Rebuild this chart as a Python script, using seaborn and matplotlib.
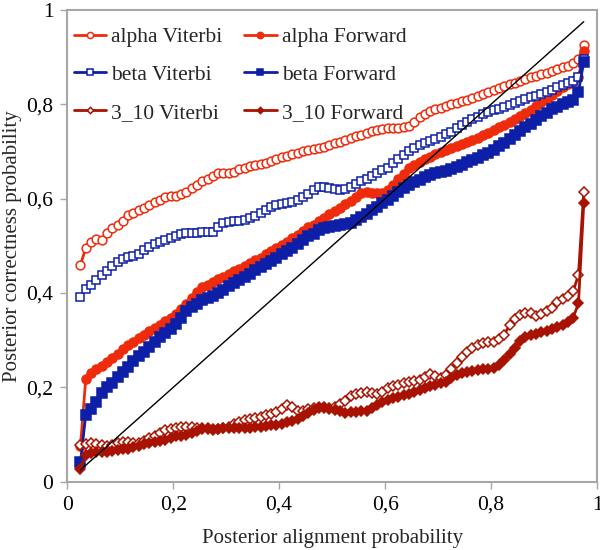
import numpy as np
import pandas as pd
import matplotlib
matplotlib.use("Agg")
import matplotlib.pyplot as plt
import seaborn as sns

# ---------------- data ----------------
x_vals = [round(0.025 + 0.01 * i, 3) for i in range(96)]

alpha_viterbi = [0.46, 0.495, 0.508, 0.514, 0.513, 0.527, 0.537, 0.545, 0.553, 0.565,
                 0.57, 0.575, 0.58, 0.586, 0.592, 0.597, 0.603, 0.605, 0.605, 0.61,
                 0.615, 0.622, 0.63, 0.637, 0.642, 0.648, 0.654, 0.655, 0.655, 0.656,
                 0.662, 0.666, 0.67, 0.672, 0.674, 0.676, 0.68, 0.685, 0.689, 0.69,
                 0.694, 0.697, 0.70, 0.703, 0.705, 0.708, 0.71, 0.713, 0.718, 0.72,
                 0.724, 0.728, 0.732, 0.735, 0.739, 0.743, 0.746, 0.748, 0.749, 0.75,
                 0.75, 0.751, 0.753, 0.762, 0.772, 0.78, 0.786, 0.79, 0.793, 0.797,
                 0.80, 0.803, 0.807, 0.81, 0.813, 0.817, 0.822, 0.827, 0.831, 0.835,
                 0.838, 0.842, 0.845, 0.849, 0.853, 0.857, 0.86, 0.864, 0.867, 0.871,
                 0.874, 0.878, 0.882, 0.888, 0.895, 0.925]

alpha_forward = [0.075, 0.218, 0.231, 0.239, 0.246, 0.253, 0.262, 0.271, 0.281, 0.29,
                 0.297, 0.304, 0.311, 0.319, 0.326, 0.333, 0.341, 0.348, 0.356, 0.366,
                 0.377, 0.39, 0.402, 0.412, 0.418, 0.424, 0.429, 0.435, 0.441, 0.446,
                 0.452, 0.458, 0.463, 0.469, 0.475, 0.483, 0.489, 0.495, 0.502, 0.509,
                 0.516, 0.523, 0.531, 0.539, 0.545, 0.553, 0.56, 0.567, 0.574, 0.581,
                 0.588, 0.595, 0.603, 0.611, 0.614, 0.613, 0.612, 0.613, 0.618, 0.628,
                 0.642, 0.652, 0.664, 0.672, 0.678, 0.684, 0.689, 0.694, 0.698, 0.703,
                 0.708, 0.712, 0.716, 0.72, 0.725, 0.729, 0.734, 0.739, 0.745, 0.751,
                 0.757, 0.762, 0.768, 0.775, 0.781, 0.788, 0.796, 0.804, 0.812, 0.82,
                 0.828, 0.836, 0.842, 0.849, 0.857, 0.912]

beta_viterbi = [0.391, 0.408, 0.417, 0.428, 0.439, 0.447, 0.458, 0.466, 0.472, 0.477,
                0.479, 0.483, 0.491, 0.498, 0.504, 0.508, 0.512, 0.516, 0.521, 0.525,
                0.527, 0.528, 0.528, 0.53, 0.53, 0.53, 0.54, 0.548, 0.55, 0.552,
                0.553, 0.555, 0.559, 0.564, 0.57, 0.577, 0.582, 0.586, 0.589, 0.59,
                0.593, 0.597, 0.604, 0.61, 0.618, 0.625, 0.624, 0.622, 0.62, 0.619,
                0.621, 0.625, 0.632, 0.638, 0.642, 0.647, 0.654, 0.66, 0.666, 0.675,
                0.685, 0.693, 0.70, 0.708, 0.714, 0.718, 0.722, 0.726, 0.73, 0.736,
                0.742, 0.749, 0.756, 0.762, 0.768, 0.774, 0.779, 0.783, 0.788, 0.791,
                0.795, 0.798, 0.802, 0.806, 0.811, 0.815, 0.818, 0.822, 0.826, 0.83,
                0.836, 0.841, 0.845, 0.849, 0.858, 0.895]

beta_forward = [0.041, 0.142, 0.155, 0.17, 0.188, 0.20, 0.21, 0.223, 0.233, 0.244,
                0.255, 0.266, 0.275, 0.286, 0.297, 0.306, 0.315, 0.323, 0.334, 0.347,
                0.361, 0.37, 0.377, 0.385, 0.389, 0.393, 0.40, 0.407, 0.414, 0.421,
                0.428, 0.434, 0.441, 0.448, 0.455, 0.462, 0.468, 0.474, 0.482, 0.489,
                0.495, 0.503, 0.512, 0.52, 0.526, 0.533, 0.537, 0.539, 0.542, 0.544,
                0.546, 0.549, 0.554, 0.561, 0.568, 0.576, 0.583, 0.591, 0.598, 0.606,
                0.615, 0.623, 0.629, 0.635, 0.64, 0.645, 0.65, 0.654, 0.656, 0.658,
                0.663, 0.668, 0.672, 0.677, 0.682, 0.686, 0.692, 0.697, 0.703, 0.711,
                0.719, 0.727, 0.735, 0.743, 0.751, 0.759, 0.767, 0.775, 0.782, 0.789,
                0.795, 0.80, 0.805, 0.81, 0.826, 0.89]

h310_viterbi = [0.078, 0.081, 0.082, 0.08, 0.077, 0.075, 0.079, 0.082, 0.084, 0.085,
                0.083, 0.082, 0.086, 0.092, 0.098, 0.104, 0.109, 0.112, 0.114, 0.116,
                0.117, 0.116, 0.114, 0.115, 0.111, 0.109, 0.111, 0.113, 0.116, 0.122,
                0.127, 0.131, 0.134, 0.136, 0.138, 0.141, 0.144, 0.148, 0.155, 0.162,
                0.158, 0.151, 0.149, 0.154, 0.157, 0.159, 0.158, 0.157, 0.158, 0.165,
                0.172, 0.181, 0.186, 0.189, 0.191, 0.189, 0.185, 0.19, 0.199, 0.203,
                0.206, 0.21, 0.212, 0.214, 0.216, 0.222, 0.229, 0.225, 0.22, 0.226,
                0.24, 0.252, 0.264, 0.276, 0.284, 0.29, 0.294, 0.296, 0.297, 0.302,
                0.312, 0.332, 0.345, 0.353, 0.357, 0.357, 0.352, 0.355, 0.362, 0.368,
                0.38, 0.387, 0.393, 0.404, 0.438, 0.614]

h310_forward = [0.028, 0.057, 0.061, 0.064, 0.064, 0.064, 0.066, 0.068, 0.069, 0.07,
                0.073, 0.076, 0.08, 0.083, 0.085, 0.087, 0.089, 0.093, 0.096, 0.098,
                0.10, 0.104, 0.108, 0.112, 0.113, 0.112, 0.111, 0.113, 0.114, 0.114,
                0.113, 0.114, 0.115, 0.116, 0.117, 0.118, 0.12, 0.121, 0.123, 0.126,
                0.129, 0.134, 0.139, 0.145, 0.152, 0.157, 0.157, 0.155, 0.153, 0.149,
                0.146, 0.147, 0.148, 0.149, 0.151, 0.157, 0.163, 0.169, 0.174, 0.177,
                0.18, 0.184, 0.187, 0.19, 0.194, 0.198, 0.202, 0.206, 0.209, 0.212,
                0.219, 0.226, 0.231, 0.233, 0.235, 0.237, 0.238, 0.24, 0.241, 0.248,
                0.259, 0.27, 0.284, 0.298, 0.306, 0.311, 0.314, 0.317, 0.32, 0.324,
                0.328, 0.333, 0.339, 0.348, 0.378, 0.59]

diag_x = [0.025, 0.975]
diag_y = [0.025, 0.975]

x_ticks = [0, 0.2, 0.4, 0.6, 0.8, 1]
x_tick_labels = ["0", "0,2", "0,4", "0,6", "0,8", "1"]
y_ticks = [0, 0.2, 0.4, 0.6, 0.8, 1]
y_tick_labels = ["0", "0,2", "0,4", "0,6", "0,8", "1"]

# ---------------- style ----------------
sns.set_theme(style="white")
plt.rcParams["font.family"] = ["Liberation Serif", "DejaVu Serif"]
plt.rcParams["font.serif"] = ["Liberation Serif", "DejaVu Serif"]
SERIF = ["Liberation Serif", "DejaVu Serif"]

RED = "#EE2C0C"
BLUE = "#0D1FA6"
DRED = "#A81200"
SPINE = "#A6A6A6"

fig = plt.figure(figsize=(6, 5.5), dpi=100)
ax = fig.add_axes([0.112, 0.124, 0.883, 0.858])

series = [
    ("alpha Viterbi", alpha_viterbi, RED, "o", 6.3, "white"),
    ("alpha Forward", alpha_forward, RED, "o", 6.5, RED),
    ("beta Viterbi", beta_viterbi, BLUE, "s", 6.0, "white"),
    ("beta Forward", beta_forward, BLUE, "s", 7.0, BLUE),
    ("3_10 Viterbi", h310_viterbi, DRED, "D", 4.6, "white"),
    ("3_10 Forward", h310_forward, DRED, "D", 4.6, DRED),
]

for name, vals, col, mk, ms, mfc in series:
    sns.lineplot(x=x_vals, y=vals, ax=ax, color=col, linewidth=2.0,
                 marker=mk, markersize=ms, markerfacecolor=mfc,
                 markeredgecolor=col, markeredgewidth=1.1, label=name,
                 sort=False, estimator=None)

sns.lineplot(x=diag_x, y=diag_y, ax=ax, color="black", linewidth=1.0,
             sort=False, estimator=None)

ax.set_xlim(0, 1)
ax.set_ylim(0, 1)
ax.set_xticks(x_ticks)
ax.set_xticklabels(x_tick_labels)
ax.set_yticks(y_ticks)
ax.set_yticklabels(y_tick_labels)
ax.tick_params(axis="both", which="major", direction="out", length=5, width=1,
               color=SPINE, labelsize=15.5, labelcolor="black", pad=5,
               bottom=True, left=True)
for lab in ax.get_xticklabels() + ax.get_yticklabels():
    lab.set_family(SERIF)
for s in ax.spines.values():
    s.set_color(SPINE)
    s.set_linewidth(1.5)

ax.set_xlabel("Posterior alignment probability", fontsize=15,
              family=SERIF, labelpad=10)
ax.set_ylabel("Posterior correctness probability", fontsize=15,
              family=SERIF, labelpad=3)

h, l = ax.get_legend_handles_labels()
lookup = dict(zip(l, h))
order = ["alpha Viterbi", "beta Viterbi", "3_10 Viterbi",
         "alpha Forward", "beta Forward", "3_10 Forward"]
leg = ax.legend([lookup[o] for o in order], order, loc="upper left",
                bbox_to_anchor=(-0.02, 1.0), ncol=2, frameon=False,
                prop={"family": SERIF, "size": 15.5},
                handlelength=1.5, handletextpad=0.25, columnspacing=1.0,
                labelspacing=0.82, borderaxespad=0.4, markerscale=0.7)

fig.savefig("out.png", dpi=100)
